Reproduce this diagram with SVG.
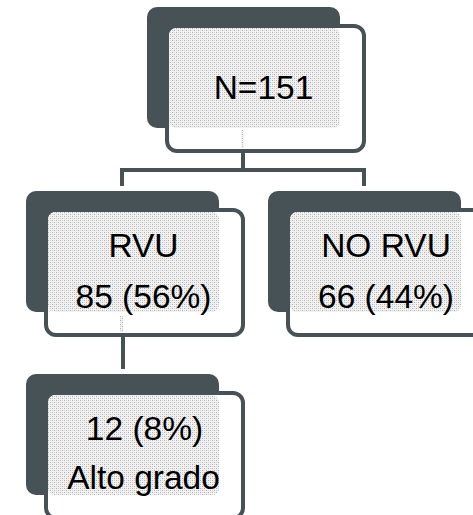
<svg xmlns="http://www.w3.org/2000/svg" width="473" height="515" viewBox="0 0 473 515">
<style>
.back{fill:#475257}
.box{fill:#ffffff;stroke:#475257;stroke-width:4}
.pat{fill:url(#dots)}
.conn{fill:none;stroke:#475257;stroke-width:4}
.lbl{font-family:"Liberation Sans",Arial,sans-serif;font-size:33.5px;fill:#000;text-anchor:middle}
</style>
<defs>
<pattern id="dots" width="4" height="4" patternUnits="userSpaceOnUse">
<rect width="4" height="4" fill="#f2f2f2"/>
<rect x="0" y="0" width="1" height="1" fill="#b0b0b0"/>
<rect x="2" y="2" width="1" height="1" fill="#b0b0b0"/>
<rect x="2" y="0" width="1" height="1" fill="#d4d4d4"/>
<rect x="0" y="2" width="1" height="1" fill="#d4d4d4"/>
</pattern>
</defs>
<g id="connectors">
<path class="conn" d="M243,151 V170 M122,170 H364 M122,168 V186 M364,168 V186 M123,335 V369"/>
</g>
<g id="node-n151">
<rect class="back" x="147" y="7" width="193" height="121" rx="10"/>
<rect class="box" x="167" y="26" width="197" height="125" rx="10"/>
<rect class="pat" x="169" y="28" width="171" height="100" rx="7"/>
<rect class="pat" x="241" y="130" width="3" height="18"/>
<text class="lbl" x="263.5" y="99">N=151</text>
</g>
<g id="node-rvu">
<rect class="back" x="26" y="191" width="193" height="121" rx="10"/>
<rect class="box" x="46" y="210" width="197" height="125" rx="10"/>
<rect class="pat" x="48" y="212" width="171" height="100" rx="7"/>
<rect class="pat" x="120" y="316" width="3" height="16"/>
<text class="lbl" x="143.5" y="257">RVU</text>
<text class="lbl" x="143.5" y="307.5">85 (56%)</text>
</g>
<g id="node-norvu">
<rect class="back" x="268" y="191" width="193" height="121" rx="10"/>
<rect class="box" x="288" y="210" width="197" height="125" rx="10"/>
<rect class="pat" x="290" y="212" width="171" height="100" rx="7"/>
<text class="lbl" x="386" y="257">NO RVU</text>
<text class="lbl" x="386" y="307.5">66 (44%)</text>
</g>
<g id="node-alto">
<rect class="back" x="26" y="374" width="193" height="121" rx="10"/>
<rect class="box" x="46" y="393" width="197" height="125" rx="10"/>
<rect class="pat" x="48" y="395" width="171" height="100" rx="7"/>
<text class="lbl" x="144.5" y="440">12 (8%)</text>
<text class="lbl" x="143.5" y="489">Alto grado</text>
</g>
</svg>
